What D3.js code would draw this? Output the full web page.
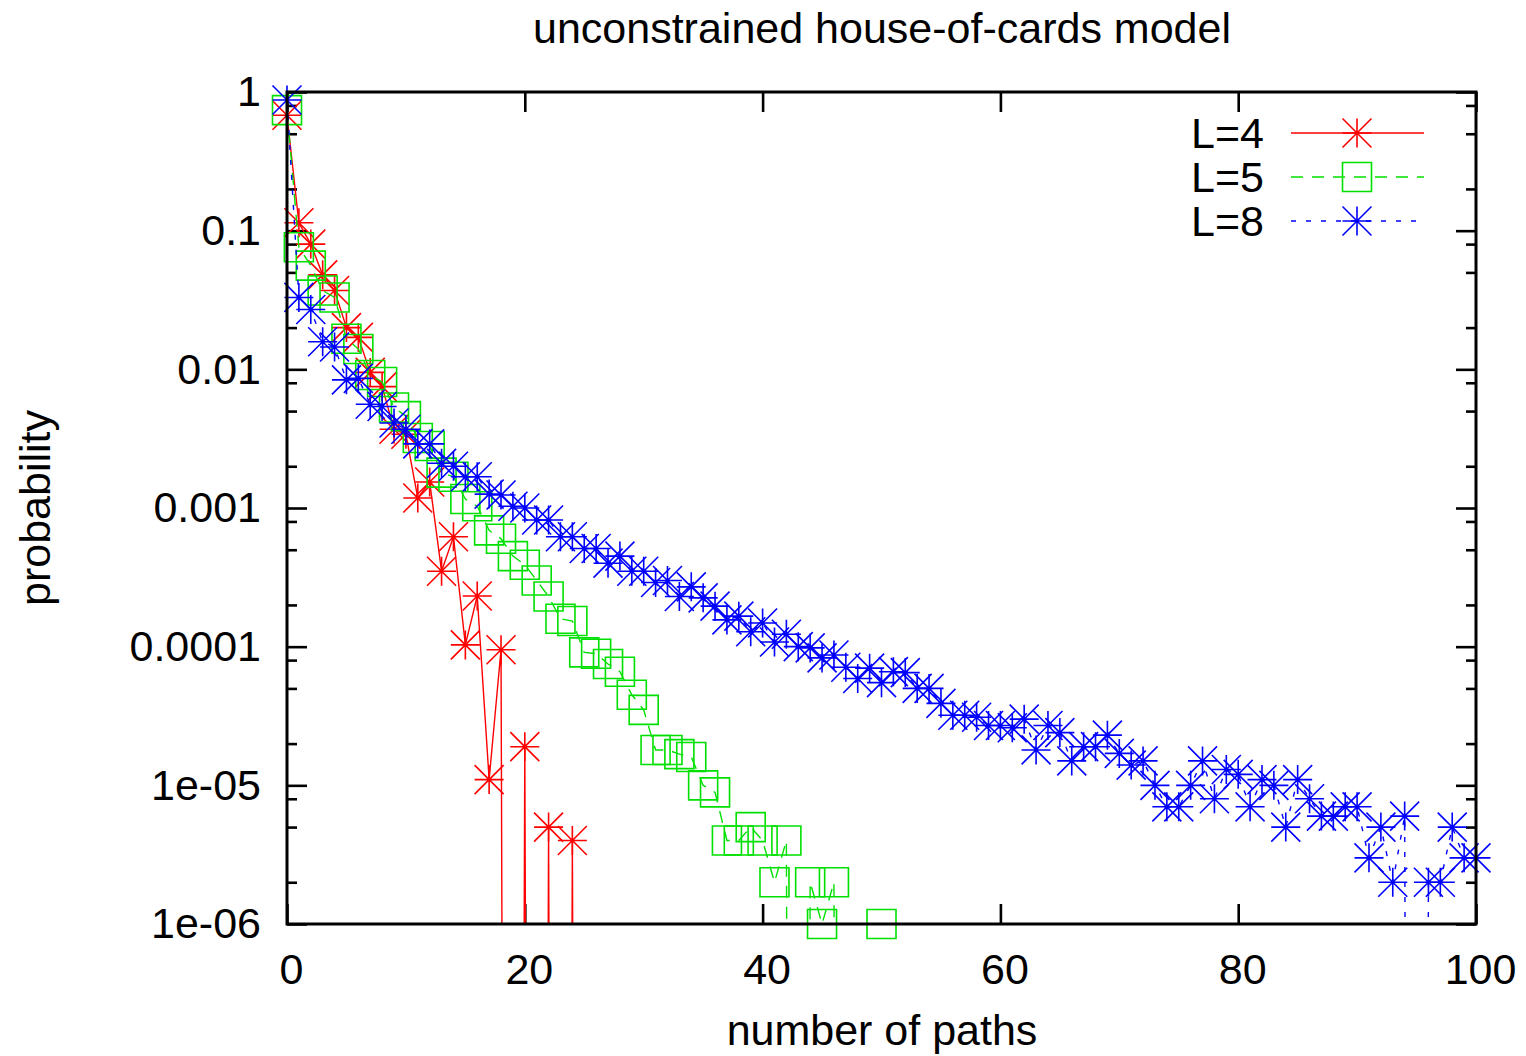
<!DOCTYPE html>
<html>
<head>
<meta charset="utf-8">
<script src="https://cdn.jsdelivr.net/npm/d3@7"></script>
<style>
  html, body { margin: 0; padding: 0; background: #fff; }
  svg text { font-family: "Liberation Sans", Arial, Helvetica, sans-serif; fill: #000; }
</style>
</head>
<body>
<svg id="chart" width="1526" height="1056"></svg>
<script>
// Probability of observing a given number of accessible paths, per system size L
const pathCounts = d3.range(0, 101);

const probL4 = [
  0.68, 0.114, 0.080, 0.048, 0.037, 0.020, 0.017, 0.0095, 0.0075, 0.0037,
  0.0034, 0.00118, 0.00154, 0.00035, 0.00062, 0.000103, 0.000232, 0.000011, 0.000095, 0,
  0.000019, 0, 0.000005, 0, 0.000004, 0
];

const probL5 = [
  0.74, 0.076, 0.056, 0.037, 0.033, 0.0166, 0.014, 0.0091, 0.0081, 0.0053,
  0.0046, 0.0032, 0.0028, 0.0018, 0.00168, 0.00116, 0.00103, 0.00069, 0.0006, 0.00045,
  0.00039, 0.00030, 0.00023, 0.000159, 0.000153, 0.000091, 0.000089, 0.000075, 0.000066, 0.000045,
  0.000035, 0.000018, 0.000018, 0.0000168, 0.000016, 0.000010, 0.0000089, 0.000004, 0.000004, 0.000005,
  0.000004, 0.000002, 0.000004, 0, 0.000002, 0.000001, 0.000002, 0, 0, 0,
  0.000001, 0
];

const probL8 = [
  0.875, 0.033, 0.027, 0.0158, 0.0145, 0.0084, 0.0086, 0.0056, 0.0054, 0.0041,
  0.0037, 0.0029, 0.0029, 0.0021, 0.0020, 0.00168, 0.00168, 0.00126, 0.00124, 0.00103,
  0.00100, 0.00082, 0.00082, 0.00062, 0.00062, 0.00051, 0.00051, 0.00040, 0.00045, 0.00035,
  0.00035, 0.00029, 0.00030, 0.00023, 0.00027, 0.000225, 0.000196, 0.000156, 0.000166, 0.000128,
  0.000148, 0.000108, 0.000123, 0.000100, 0.000098, 0.000083, 0.000087, 0.000071, 0.000059, 0.000070,
  0.000055, 0.000066, 0.000065, 0.000050, 0.000050, 0.000039, 0.000032, 0.000032, 0.000031, 0.000027,
  0.000027, 0.000026, 0.000030, 0.000018, 0.000027, 0.000024, 0.000015, 0.000019, 0.000019, 0.000023,
  0.000017, 0.000014, 0.000015, 0.000010, 0.000007, 0.000007, 0.000010, 0.000015, 0.000008, 0.000013,
  0.000012, 0.000007, 0.000011, 0.000010, 0.000005, 0.000011, 0.000008, 0.000006, 0.000006, 0.000007,
  0.000007, 0.000003, 0.000005, 0.000002, 0.000006, 0, 0.000002, 0.000002, 0.000005, 0.000003,
  0.000003
];

const seriesNames = ["L=4", "L=5", "L=8"];
const seriesColors = ["#ff0000", "#00e000", "#0000ff"];
const seriesDash = [null, "12,9", "5,10"];
const seriesMarker = ["star", "square", "star"];
const seriesValues = [probL4, probL5, probL8];

const xTicks = [0, 20, 40, 60, 80, 100];
const yTicks = [1e-6, 1e-5, 1e-4, 1e-3, 1e-2, 1e-1, 1];
const yTickLabels = ["1e-06", "1e-05", "0.0001", "0.001", "0.01", "0.1", "1"];
const yMinorTicks = [];
for (let e = -6; e < 0; e++) [2, 5, 8].forEach(m => yMinorTicks.push(m * Math.pow(10, e)));

const titleText = "unconstrained house-of-cards model";
const xLabel = "number of paths";
const yLabel = "probability";

// Layout
const plot = { left: 287, right: 1476, top: 92, bottom: 924 };
const fontSize = 43;

const svg = d3.select("#chart");

const x = d3.scaleLinear().domain([0, 100]).range([plot.left, plot.right]);
const y = d3.scaleLog().domain([1e-6, 1]).range([plot.bottom, plot.top]);
const FLOOR = 1e-30; // empty bins fall far below the visible range

svg.append("defs").append("clipPath").attr("id", "plotClip")
  .append("rect")
  .attr("x", plot.left).attr("y", plot.top)
  .attr("width", plot.right - plot.left).attr("height", plot.bottom - plot.top);

// Axes: major and minor ticks pointing inward on all four sides
const tickStroke = 2.6;
function styleAxis(g) {
  g.select(".domain").remove();
  g.selectAll(".tick line").attr("stroke", "#000").attr("stroke-width", tickStroke);
  g.selectAll(".tick text").attr("font-size", fontSize);
}

svg.append("g")
  .attr("transform", `translate(${plot.left},0)`)
  .call(d3.axisLeft(y).tickValues(yTicks).tickSize(-20).tickPadding(26)
    .tickFormat((d, i) => yTickLabels[i]))
  .call(styleAxis);

svg.append("g")
  .attr("transform", `translate(${plot.left},0)`)
  .call(d3.axisLeft(y).tickValues(yMinorTicks).tickSize(-10).tickFormat(""))
  .call(styleAxis);

svg.append("g")
  .attr("transform", `translate(${plot.right},0)`)
  .call(d3.axisRight(y).tickValues(yTicks).tickSize(-20).tickFormat(""))
  .call(styleAxis);

svg.append("g")
  .attr("transform", `translate(${plot.right},0)`)
  .call(d3.axisRight(y).tickValues(yMinorTicks).tickSize(-10).tickFormat(""))
  .call(styleAxis);

svg.append("g")
  .attr("transform", `translate(0,${plot.bottom})`)
  .call(d3.axisBottom(x).tickValues(xTicks).tickSize(-20).tickPadding(29)
    .tickFormat(d3.format("d")))
  .call(styleAxis)
  .call(g => g.selectAll(".tick text").attr("dx", 4));

svg.append("g")
  .attr("transform", `translate(0,${plot.top})`)
  .call(d3.axisTop(x).tickValues(xTicks).tickSize(-20).tickFormat(""))
  .call(styleAxis);

// Markers
function markerPath(kind) {
  const h = 14.5;
  if (kind === "square") {
    return `M${-h},${-h}H${h}V${h}H${-h}Z`;
  }
  return `M${-h},0H${h}M0,${-h}V${h}M${-h},${-h}L${h},${h}M${-h},${h}L${h},${-h}`;
}

const line = d3.line()
  .x((d, i) => x(pathCounts[i]))
  .y(d => y(d > 0 ? d : FLOOR));

const dataLayer = svg.append("g");

seriesValues.forEach((vals, s) => {
  const g = dataLayer.append("g");
  g.append("path")
    .datum(vals)
    .attr("clip-path", "url(#plotClip)")
    .attr("fill", "none")
    .attr("stroke", seriesColors[s])
    .attr("stroke-width", 1.4)
    .attr("stroke-dasharray", seriesDash[s])
    .attr("d", line);

  g.selectAll("path.pt")
    .data(vals.map((v, i) => ({ v, n: pathCounts[i] })).filter(d => d.v >= 1e-6))
    .join("path")
    .attr("class", "pt")
    .attr("transform", d => `translate(${x(d.n)},${y(d.v)})`)
    .attr("d", markerPath(seriesMarker[s]))
    .attr("fill", "none")
    .attr("stroke", seriesColors[s])
    .attr("stroke-width", 1.6);
});

// Frame
svg.append("rect")
  .attr("x", plot.left).attr("y", plot.top)
  .attr("width", plot.right - plot.left).attr("height", plot.bottom - plot.top)
  .attr("fill", "none").attr("stroke", "#000").attr("stroke-width", 3);

// Legend
const legendRows = [133, 177, 221];
const legend = svg.append("g");
seriesNames.forEach((name, s) => {
  const ly = legendRows[s];
  legend.append("text")
    .attr("x", 1264).attr("y", ly)
    .attr("dy", "0.36em")
    .attr("text-anchor", "end")
    .attr("font-size", fontSize)
    .text(name);
  legend.append("line")
    .attr("x1", 1291).attr("x2", 1424).attr("y1", ly).attr("y2", ly)
    .attr("stroke", seriesColors[s]).attr("stroke-width", 1.4)
    .attr("stroke-dasharray", seriesDash[s]);
  legend.append("path")
    .attr("transform", `translate(1357,${ly})`)
    .attr("d", markerPath(seriesMarker[s]))
    .attr("fill", "none").attr("stroke", seriesColors[s]).attr("stroke-width", 1.6);
});

// Titles
svg.append("text")
  .attr("x", 882).attr("y", 43)
  .attr("text-anchor", "middle")
  .attr("font-size", fontSize)
  .text(titleText);

svg.append("text")
  .attr("x", 882).attr("y", 1045)
  .attr("text-anchor", "middle")
  .attr("font-size", fontSize)
  .text(xLabel);

svg.append("text")
  .attr("transform", "translate(50,508) rotate(-90)")
  .attr("text-anchor", "middle")
  .attr("font-size", fontSize)
  .text(yLabel);
</script>
</body>
</html>
